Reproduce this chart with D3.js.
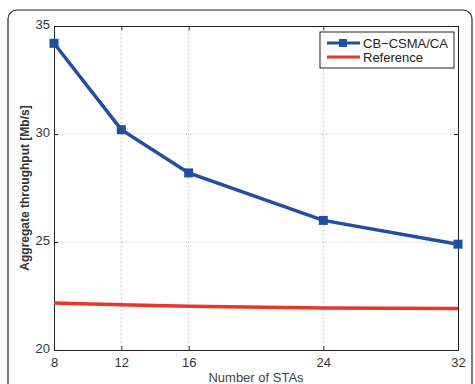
<!DOCTYPE html>
<html>
<head>
<meta charset="utf-8">
<script src="https://cdn.jsdelivr.net/npm/d3@7"></script>
<style>
  body { margin: 0; background: #fff; }
  text { font-family: "Liberation Sans", Arial, sans-serif; }
</style>
</head>
<body>
<div id="container"></div>
<script>
const stas = [8, 12, 16, 24, 32];
const cbCsma = [34.2, 30.2, 28.2, 26.0, 24.9];
const reference = [22.18, 22.1, 22.02, 21.95, 21.92];
const xTicks = [8, 12, 16, 24, 32];
const yTicks = [20, 25, 30, 35];
const seriesNames = ['CB\u2212CSMA/CA', 'Reference'];

const width = 475, height = 384;
const margin = { top: 26, right: 17, bottom: 34, left: 54 };
const w = width - margin.left - margin.right;
const h = height - margin.top - margin.bottom;

const root = d3.select('#container').append('svg')
  .attr('width', width)
  .attr('height', height);

// outer frame
root.append('rect')
  .attr('x', 8).attr('y', 10)
  .attr('width', 464).attr('height', 390)
  .attr('rx', 9)
  .attr('fill', 'none')
  .attr('stroke', '#222')
  .attr('stroke-width', 1.2);

const svg = root.append('g')
  .attr('transform', `translate(${margin.left},${margin.top})`);

const xScale = d3.scaleLinear().domain([8, 32]).range([0, w]);
const yScale = d3.scaleLinear().domain([20, 35]).range([h, 0]);

// grid
svg.append('g')
  .selectAll('line')
  .data(xTicks.slice(1, -1))
  .join('line')
  .attr('x1', d => xScale(d)).attr('x2', d => xScale(d))
  .attr('y1', 0).attr('y2', h)
  .attr('stroke', '#aaa')
  .attr('stroke-dasharray', '1,3');
svg.append('g')
  .selectAll('line')
  .data(yTicks.slice(1, -1))
  .join('line')
  .attr('y1', d => yScale(d)).attr('y2', d => yScale(d))
  .attr('x1', 0).attr('x2', w)
  .attr('stroke', '#aaa')
  .attr('stroke-dasharray', '1,3');

// axes (ticks inside)
const xAxis = svg.append('g')
  .attr('transform', `translate(0,${h})`)
  .call(d3.axisBottom(xScale).tickValues(xTicks).tickSizeInner(-4).tickSizeOuter(0).tickPadding(8));
const yAxis = svg.append('g')
  .call(d3.axisLeft(yScale).tickValues(yTicks).tickSizeInner(-4).tickSizeOuter(0).tickPadding(4));
svg.append('g')
  .call(d3.axisTop(xScale).tickValues(xTicks).tickSizeInner(-4).tickSizeOuter(0).tickFormat(''));
svg.append('g')
  .attr('transform', `translate(${w},0)`)
  .call(d3.axisRight(yScale).tickValues(yTicks).tickSizeInner(-4).tickSizeOuter(0).tickFormat(''));

svg.selectAll('.domain').attr('stroke', '#222');
svg.selectAll('.tick line').attr('stroke', '#222');
svg.selectAll('.tick text')
  .attr('font-size', 13)
  .attr('fill', '#333')
  .style('font-family', '"Liberation Sans", Arial, sans-serif');
yAxis.selectAll('.tick text').attr('dy', '0.2em');

// lines
const line = d3.line()
  .x((d, i) => xScale(stas[i]))
  .y(d => yScale(d));

svg.append('path')
  .datum(reference)
  .attr('fill', 'none')
  .attr('stroke', '#e8352a')
  .attr('stroke-width', 3.5)
  .attr('d', line);

svg.append('path')
  .datum(cbCsma)
  .attr('fill', 'none')
  .attr('stroke', '#1f4ea3')
  .attr('stroke-width', 3.5)
  .attr('d', line);

svg.append('g')
  .selectAll('rect')
  .data(cbCsma)
  .join('rect')
  .attr('x', (d, i) => xScale(stas[i]) - 4.5)
  .attr('y', d => yScale(d) - 4.5)
  .attr('width', 9).attr('height', 9)
  .attr('fill', '#1f4ea3');

// legend
const legend = svg.append('g')
  .attr('transform', `translate(${w - 138},6)`);
legend.append('rect')
  .attr('width', 134).attr('height', 36)
  .attr('fill', '#fff')
  .attr('stroke', '#222');
const colors = ['#1f4ea3', '#e8352a'];
seriesNames.forEach((name, i) => {
  const yy = 11 + i * 14;
  legend.append('line')
    .attr('x1', 7).attr('x2', 40)
    .attr('y1', yy).attr('y2', yy)
    .attr('stroke', colors[i])
    .attr('stroke-width', 3);
  if (i === 0) {
    legend.append('rect')
      .attr('x', 19).attr('y', yy - 4)
      .attr('width', 8).attr('height', 8)
      .attr('fill', colors[i]);
  }
  legend.append('text')
    .attr('x', 43).attr('y', yy)
    .attr('dy', '0.35em')
    .attr('font-size', 13)
    .attr('fill', '#222')
    .text(name);
});

// axis labels
root.append('text')
  .attr('x', margin.left + w / 2)
  .attr('y', 382)
  .attr('text-anchor', 'middle')
  .attr('font-size', 13)
  .attr('fill', '#444')
  .text('Number of STAs');

root.append('text')
  .attr('transform', `translate(29,${margin.top + h / 2}) rotate(-90)`)
  .attr('text-anchor', 'middle')
  .attr('font-size', 12)
  .attr('font-weight', 'bold')
  .attr('fill', '#333')
  .text('Aggregate throughput [Mb/s]');
</script>
</body>
</html>
